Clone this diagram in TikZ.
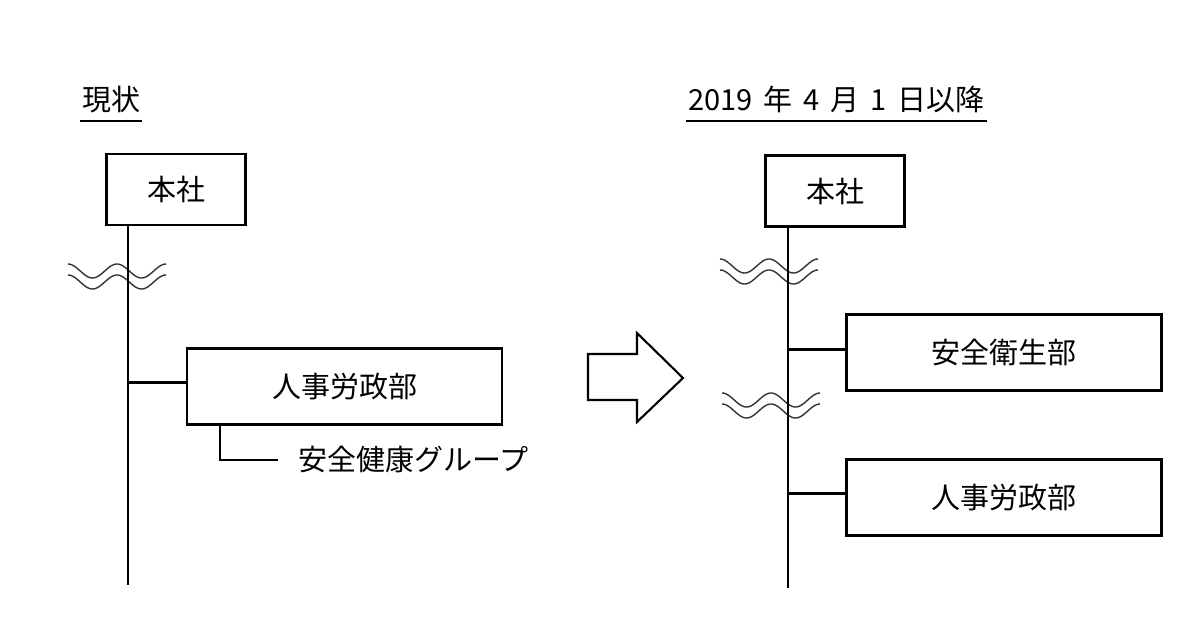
\documentclass[tikz,border=0pt]{standalone}
\usepackage{fontspec}
\newfontfamily\jpfont{Noto Sans CJK JP}
\usetikzlibrary{positioning,calc}
\definecolor{wavegrey}{HTML}{333333}
\newcommand{\jpsize}{\jpfont\fontsize{29}{32}\selectfont}
\tikzset{
  unit/.style={draw=black, line width=2.1pt, fill=white, minimum height=71pt,
               minimum width=139pt, align=center, font=\jpsize},
  dept/.style={unit, minimum width=315pt, minimum height=76pt},
  trunk/.style={draw=black, line width=2.1pt},
  headline/.style={font=\jpsize, inner sep=0pt},
  uline/.style={draw=black, line width=1.4pt},
  wavy/.style={draw=wavegrey, line width=1.4pt},
  bigarrow/.style={draw=black, line width=2.1pt, fill=white, line join=miter},
  breakmark/.pic={
    \draw[wavy] plot[domain=0:98, samples=60, smooth] (\x,{-7*cos(\x*7.347)});
    \draw[wavy] plot[domain=0:98, samples=60, smooth] (\x,{11-7*cos(\x*7.347)});
  },
}
\begin{document}
\begin{tikzpicture}[x=1pt, y=-1pt]
\useasboundingbox (0,0) rectangle (1180,640);
% headings
\node[headline, anchor=base west] (now) at (82,110) {現状};
\node[headline, anchor=base west] (after) at (688,110)
  {\spaceskip=11pt 2019 年 4 月 1 日以降};
\draw[uline] ($(now.base west)+(-2,11)$) -- ($(now.base east)+(2,11)$);
\draw[uline] ($(after.base west)+(-2,11)$) -- ($(after.base east)+(2,11)$);
% current organisation
\node[unit] (hqL) at (176,189.5) {本社};
\node[dept] (jinjiL) at (344.5,386.5) {人事労政部};
\node[headline, anchor=west] (kenko) at (298,460) {安全健康グループ};
\coordinate (trunkL) at (128,585);
\coordinate (tapL) at (220,425);
\coordinate (jointL) at ($(jinjiL.west)+(0,-4)$);
\pic at (68,271) {breakmark};
\draw[trunk] (hqL.south -| trunkL) -- (trunkL);
\draw[trunk] (jointL) -- (jointL -| trunkL);
\draw[trunk] (tapL) |- ($(kenko.west)+(-20,0)$);
% transition
\draw[bigarrow] (588,354) -- (637,354) -- (637,333) -- (683,378)
  -- (637,422) -- (637,400) -- (588,400) -- cycle;
% from April 2019
\node[unit] (hqR) at (835,191) {本社};
\node[dept] (anzenR) at (1004,352.5) {安全衛生部};
\node[dept] (jinjiR) at (1004,497.5) {人事労政部};
\coordinate (trunkR) at (788,588);
\coordinate (jointA) at ($(anzenR.west)+(0,-3)$);
\coordinate (jointJ) at ($(jinjiR.west)+(0,-4)$);
\pic at (720,266) {breakmark};
\pic at (722,400) {breakmark};
\draw[trunk] (hqR.south -| trunkR) -- (trunkR);
\draw[trunk] (jointA) -- (jointA -| trunkR);
\draw[trunk] (jointJ) -- (jointJ -| trunkR);
\end{tikzpicture}
\end{document}
